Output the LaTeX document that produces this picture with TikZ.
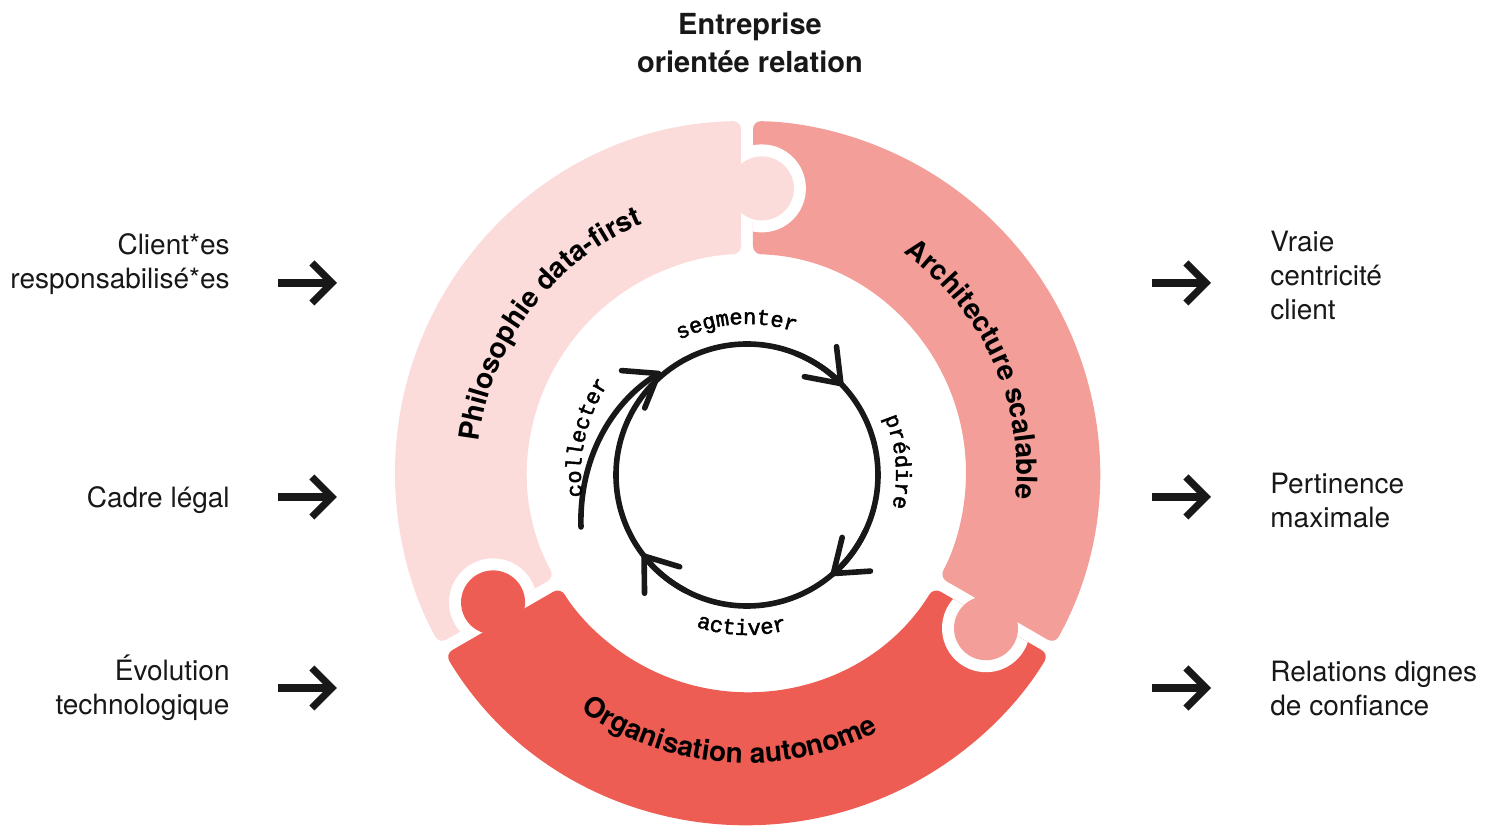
\documentclass[tikz,border=0pt]{standalone}
\usepackage{fontspec}
\setmainfont{TeX Gyre Heros}
\setmonofont{Liberation Mono}[FakeBold=2]
\usetikzlibrary{arrows.meta,decorations.text}

\definecolor{pinklight}{RGB}{251,220,218}
\definecolor{pinkmid}{RGB}{243,158,152}
\definecolor{pinkred}{RGB}{238,93,84}
\definecolor{ink}{RGB}{24,24,24}

% one piece of the ring, with a straight gap at both ends
\newcommand{\piecepath}[2]{({#1+0.98}:352) arc[start angle={#1+0.98}, end angle={#2-0.98}, radius=352] -- ({#2-1.57}:219) arc[start angle={#2-1.57}, end angle={#1+1.57}, radius=219] -- cycle}
% text on an arc round the origin
\newcommand{\arctext}[5]{\path[decorate, decoration={text along path, text align=center, text={|#4|#5}}] (#2:#1) arc[start angle=#2, end angle=#3, radius=#1];}

\begin{document}
\begin{tikzpicture}[x=0.5pt,y=0.5pt,
  side/.style={font=\fontsize{14}{17}\selectfont, text=ink, inner sep=0pt},
  sidearrow/.style={draw=ink, line width=3.6pt, -{Straight Barb[length=10pt,width=20pt]}},
  cyc/.style={draw=ink, line width=2.8pt, line cap=round},
  cyctip/.style={-{Straight Barb[length=15pt,width=22pt,round]}}]
  \useasboundingbox (-747,-367) rectangle (753,473);

  \node[font=\bfseries\fontsize{14.5}{19}\selectfont, align=center, text=ink] (title) at (3,430) {Entreprise\\orientée relation};

  % ring
  \fill[pinklight, rounded corners=4] \piecepath{90}{210};
  \fill[pinkmid, rounded corners=4] \piecepath{-30}{90};
  \fill[pinkred, rounded corners=4] \piecepath{210}{330};
  \begin{scope}
    \clip \piecepath{-30}{90};
    \fill[white] (87:285) circle[radius=44];
  \end{scope}
  \begin{scope}
    \clip \piecepath{90}{210};
    \fill[white] (207:285) circle[radius=44];
  \end{scope}
  \begin{scope}
    \clip \piecepath{210}{330};
    \fill[white] (327:285) circle[radius=44];
  \end{scope}
  \fill[pinklight] (87:285) circle[radius=32];
  \fill[pinkred] (207:285) circle[radius=32];
  \fill[pinkmid] (327:285) circle[radius=32];

  \arctext{270}{200}{86}{\bfseries\fontsize{14}{16}\selectfont}{Philosophie data-first}
  \arctext{270}{85}{-36}{\bfseries\fontsize{14}{16}\selectfont}{Architecture scalable}
  \arctext{290}{205}{327}{\bfseries\fontsize{14}{16}\selectfont}{Organisation autonome}

  % cycle
  \begin{scope}[shift={(0,-2)}]
    \draw[cyc] (0,0) circle[radius=131];
    \foreach \a in {43,-50,217}
      \draw[cyc,cyctip] ({\a+25}:131) arc[start angle={\a+25}, end angle=\a, radius=131];
    \draw[cyc,cyctip] (-166,-52) .. controls (-168,16) and (-136,72) .. (-86,103);
    \arctext{151}{140}{48}{\ttfamily\fontsize{11}{13}\selectfont}{segmenter}
    \arctext{149}{50}{-40}{\ttfamily\fontsize{11}{13}\selectfont}{prédire}
    \arctext{160}{223}{313}{\ttfamily\fontsize{11}{13}\selectfont}{activer}
    \arctext{166}{212}{122}{\ttfamily\fontsize{11}{13}\selectfont}{collecter}
  \end{scope}

  % inputs and outputs
  \node[side, anchor=east, align=right] (lclient) at (-517,209) {Client*es\\responsabilisé*es};
  \node[side, anchor=east] (lcadre) at (-517,-27) {Cadre légal};
  \node[side, anchor=east, align=right] (levol) at (-517,-215) {Évolution\\technologique};
  \node[side, anchor=west, align=left] (rvraie) at (523,197) {Vraie\\centricité\\client};
  \node[side, anchor=west, align=left] (rpert) at (523,-28) {Pertinence\\maximale};
  \node[side, anchor=west, align=left] (rrel) at (523,-216) {Relations dignes\\de confiance};
  \foreach \y/\n in {190/a,-24/b,-215/c} {
    \coordinate (lin\n) at (-469,\y);
    \coordinate (lout\n) at (-410,\y);
    \coordinate (rin\n) at (405,\y);
    \coordinate (rout\n) at (464,\y);
    \draw[sidearrow] (lin\n) -- (lout\n);
    \draw[sidearrow] (rin\n) -- (rout\n);
  }
\end{tikzpicture}
\end{document}
